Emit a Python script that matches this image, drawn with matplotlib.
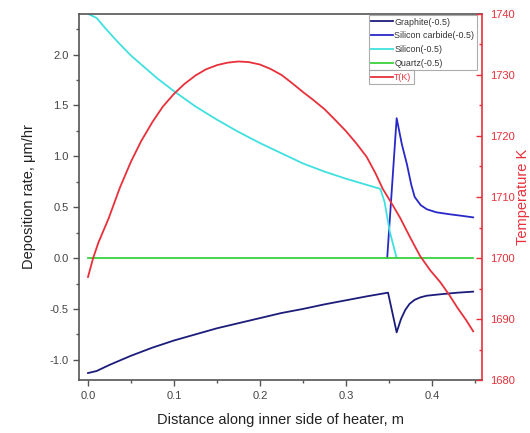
import matplotlib
matplotlib.use("Agg")
import matplotlib.pyplot as plt
from matplotlib.ticker import MultipleLocator, FormatStrFormatter

plt.rcParams['font.family'] = ['Liberation Sans', 'DejaVu Sans']
plt.rcParams['axes.unicode_minus'] = False

# ---- data ----
x_graphite = [0.0, 0.01, 0.025, 0.05, 0.075, 0.1, 0.125, 0.15, 0.175, 0.2, 0.225, 0.25,
              0.275, 0.3, 0.325, 0.349, 0.359, 0.364, 0.369, 0.374, 0.38, 0.387, 0.394,
              0.405, 0.417, 0.43, 0.448]
y_graphite = [-1.13, -1.11, -1.05, -0.96, -0.88, -0.81, -0.75, -0.69, -0.64, -0.59, -0.54, -0.50,
              -0.455, -0.415, -0.375, -0.34, -0.73, -0.60, -0.51, -0.45, -0.41, -0.385, -0.37,
              -0.36, -0.35, -0.34, -0.33]

x_sic = [0.348, 0.359, 0.365, 0.371, 0.376, 0.38, 0.387, 0.394, 0.405, 0.421, 0.435, 0.448]
y_sic = [0.0, 1.375, 1.12, 0.92, 0.72, 0.60, 0.52, 0.48, 0.45, 0.43, 0.415, 0.40]

x_si = [0.0, 0.01, 0.02, 0.035, 0.05, 0.065, 0.08, 0.1, 0.125, 0.15, 0.175, 0.2, 0.225,
        0.25, 0.275, 0.3, 0.32, 0.34, 0.345, 0.351, 0.359]
y_si = [2.4, 2.36, 2.26, 2.12, 1.99, 1.88, 1.77, 1.64, 1.49, 1.36, 1.24, 1.13, 1.03,
        0.93, 0.85, 0.78, 0.73, 0.68, 0.55, 0.26, 0.0]

x_quartz = [0.0, 0.448]
y_quartz = [0.0, 0.0]

x_temp = [0.0, 0.006, 0.012, 0.024, 0.037, 0.05, 0.062, 0.075, 0.087, 0.1, 0.112, 0.125,
          0.137, 0.15, 0.162, 0.175, 0.187, 0.2, 0.212, 0.225, 0.237, 0.25, 0.262, 0.275,
          0.287, 0.3, 0.312, 0.324, 0.334, 0.343, 0.353, 0.363, 0.375, 0.386, 0.398, 0.41,
          0.42, 0.43, 0.44, 0.448]
y_temp = [1696.9, 1700.0, 1702.5, 1706.5, 1711.5, 1715.8, 1719.2, 1722.3, 1724.8, 1726.9,
          1728.5, 1729.9, 1730.9, 1731.6, 1732.0, 1732.2, 1732.1, 1731.7, 1731.0, 1730.0,
          1728.7, 1727.2, 1725.9, 1724.4, 1722.7, 1720.8, 1718.8, 1716.6, 1714.0, 1711.3,
          1709.0, 1706.6, 1703.3, 1700.4, 1698.0, 1696.0, 1694.0, 1691.8, 1689.8, 1688.0]

labels = ['Graphite(-0.5)', 'Silicon carbide(-0.5)', 'Silicon(-0.5)', 'Quartz(-0.5)']
temp_label = 'T(K)'

c_graphite = '#1c1c7a'
c_sic = '#2828c8'
c_si = '#40e0e0'
c_quartz = '#3cd03c'
c_temp = '#e8303a'
gray = '#555555'

fig = plt.figure(figsize=(5.30, 4.33), dpi=100)
ax = fig.add_axes([0.149, 0.122, 0.760, 0.846])

lw = 1.3
ax.plot(x_graphite, y_graphite, color=c_graphite, lw=lw, label=labels[0])
ax.plot(x_sic, y_sic, color=c_sic, lw=lw, label=labels[1])
ax.plot(x_si, y_si, color=c_si, lw=lw, label=labels[2])
ax.plot(x_quartz, y_quartz, color=c_quartz, lw=lw, label=labels[3])

ax.set_xlim(-0.0105, 0.458)
ax.set_ylim(-1.2, 2.4)
ax.xaxis.set_major_locator(MultipleLocator(0.1))
ax.xaxis.set_minor_locator(MultipleLocator(0.05))
ax.yaxis.set_major_locator(MultipleLocator(0.5))
ax.yaxis.set_minor_locator(MultipleLocator(0.25))
ax.xaxis.set_major_formatter(FormatStrFormatter('%.1f'))
ax.yaxis.set_major_formatter(FormatStrFormatter('%.1f'))

for s in ['left', 'bottom', 'top']:
    ax.spines[s].set_color(gray)
    ax.spines[s].set_linewidth(1.2)
ax.spines['right'].set_visible(False)
ax.tick_params(axis='both', which='major', direction='out', length=4, width=1,
               color=gray, labelcolor='#444444', labelsize=8)
ax.tick_params(axis='both', which='minor', direction='out', length=2.5, width=1, color=gray)
ax.tick_params(axis='y', right=False, which='both')
ax.tick_params(axis='x', top=False, which='both')

ax.set_xlabel('Distance along inner side of heater, m', fontsize=10.5, color='#222222', labelpad=9)
ax.set_ylabel('Deposition rate, \u03bcm/hr', fontsize=10.5, color='#222222', labelpad=10)

ax2 = ax.twinx()
ax2.plot(x_temp, y_temp, color=c_temp, lw=lw, label=temp_label)
ax2.set_ylim(1680, 1740)
ax2.yaxis.set_major_locator(MultipleLocator(10))
ax2.yaxis.set_minor_locator(MultipleLocator(5))
for s in ['left', 'bottom', 'top']:
    ax2.spines[s].set_visible(False)
ax2.spines['right'].set_color(c_temp)
ax2.spines['right'].set_linewidth(1.2)
ax2.tick_params(axis='y', which='major', direction='in', length=4, width=1,
                color=c_temp, labelcolor=c_temp, labelsize=8, pad=6)
ax2.tick_params(axis='y', which='minor', direction='in', length=2.5, width=1, color=c_temp)
ax2.set_ylabel('Temperature K', fontsize=10.5, color=c_temp, labelpad=1)

leg_kw = dict(loc='upper left', borderaxespad=0, fontsize=6.4, frameon=True,
              fancybox=False, handlelength=2.4, handletextpad=0.2, borderpad=0.25,
              labelspacing=0.55)
leg1 = ax.legend(bbox_to_anchor=(0.72, 0.996), **leg_kw)
leg1.get_frame().set_edgecolor('#999999')
leg1.get_frame().set_linewidth(0.8)
for t in leg1.get_texts():
    t.set_color('#333333')

fig.canvas.draw()
bb = leg1.get_window_extent().transformed(ax.transAxes.inverted())

leg2 = ax2.legend(bbox_to_anchor=(0.72, bb.y0), **leg_kw)
leg2.get_frame().set_edgecolor('#999999')
leg2.get_frame().set_linewidth(0.8)
for t in leg2.get_texts():
    t.set_color(c_temp)

fig.savefig('out.png', dpi=100)
